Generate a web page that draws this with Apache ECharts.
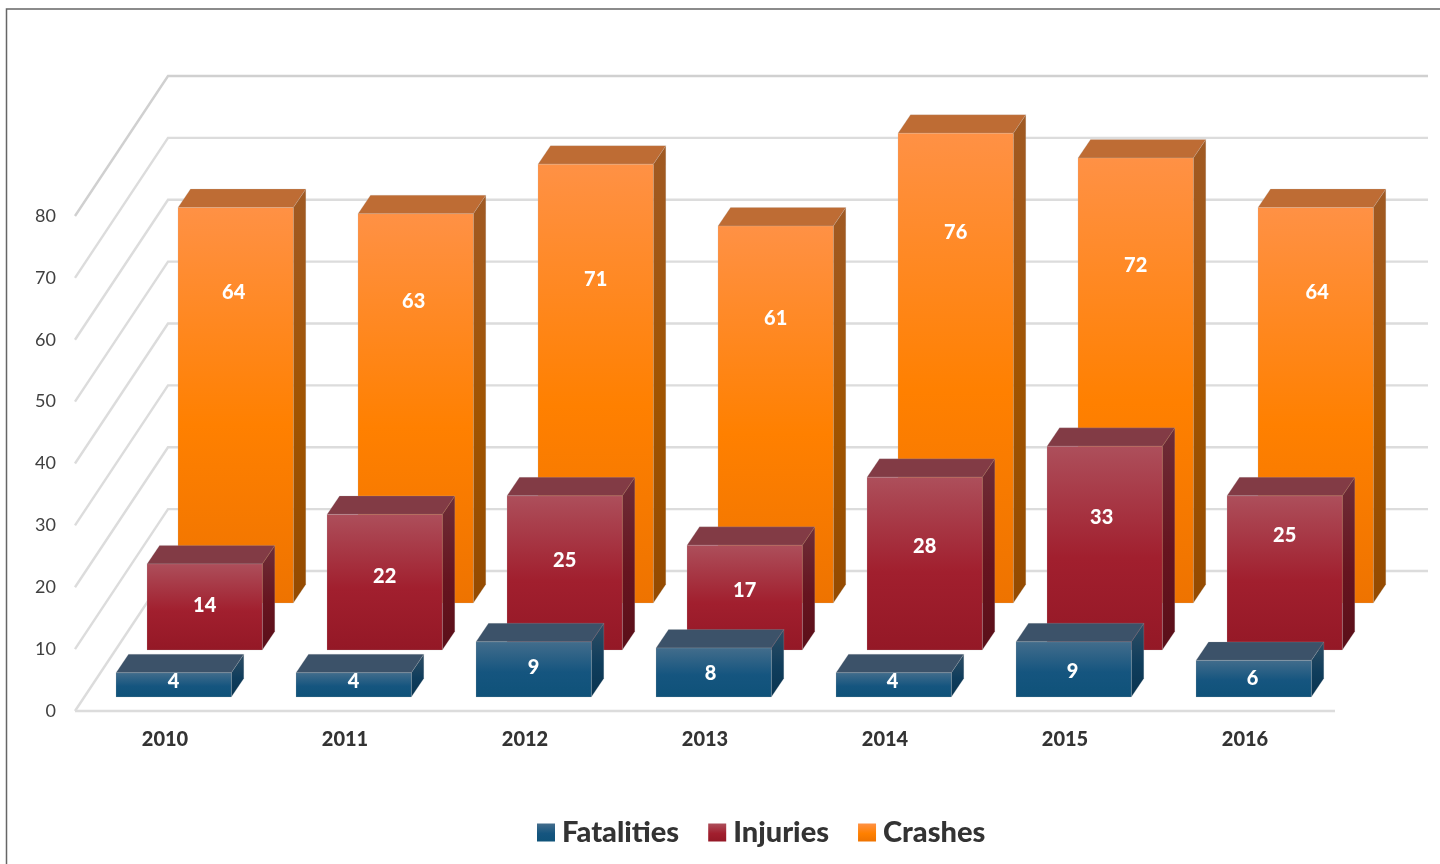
<!DOCTYPE html>
<html>
<head>
<meta charset="utf-8">
<style>html,body{margin:0;padding:0;background:#fff}#c{width:1440px;height:864px}</style>
<script src="https://cdn.jsdelivr.net/npm/echarts@6/dist/echarts.min.js"></script>
</head>
<body>
<div id="c"></div>
<script>
var years = ['2010','2011','2012','2013','2014','2015','2016'];
var fatalities = [4,4,9,8,4,9,6];
var injuries = [14,22,25,17,28,33,25];
var crashes = [64,63,71,61,76,72,64];
var yTicks = [0,10,20,30,40,50,60,70,80];

var FONT = 'Lato, "Open Sans", sans-serif';
var WALL = [93, -140];           // floor depth in pixels
var BAR_W = 115.3, BAR_D = [12.5, -18.5];

function grad(a, b, c) {
  return {type:'linear', x:0, y:0, x2:0, y2:1,
    colorStops:[{offset:0,color:a},{offset:0.55,color:b},{offset:1,color:c}]};
}
var styles = {
  Fatalities:{ front:['#436d8c','#15557f','#0f5279'], top:'#3c5269', side:['#2f4d63','#0f3d5c','#0a3450'], dx:41,  dy:-14,
    nudgeX:[0,0,0,-3,-1,-1,-1], nudgeY:[-5,-5,-3,0,-5,1,-2] },
  Injuries:{ front:['#ad4f5b','#a11f2e','#941826'], top:'#823b45', side:['#6e2e38','#66141f','#5a0f19'], dx:72,  dy:-61,
    nudgeX:[0,0,0,0,0,-3,0], nudgeY:[-3,-7,-14,-9,-19,-32,-39] },
  Crashes:{ front:['#ff9145','#ff8000','#ee7300'], top:'#be6c34', side:['#a05a24','#a05400','#944a00'], dx:103, dy:-108,
    nudgeX:[-2,-2,0,0,0,0,1.5], nudgeY:[-114,-108,-106,-97,-137,-116,-114] }
};
var EDGE = 'rgba(190,190,190,0.3)';

function barSeries(name, values) {
  var s = styles[name];
  return {
    type:'custom', name:name, coordinateSystem:'cartesian2d', clip:false, animation:false,
    itemStyle:{color:grad(s.front[0], s.front[1], s.front[2])},
    encode:{x:0, y:1},
    data: values.map(function(v,i){ return [i,v]; }),
    renderItem:function(params, api){
      var i = api.value(0), v = api.value(1);
      var band = api.size([1,0])[0];
      var p0 = api.coord([i,0]), pv = api.coord([i,v]);
      var x0 = p0[0]-band/2+s.dx, x1 = x0+BAR_W;
      var yb = p0[1]+s.dy, yt = pv[1]+s.dy+0.5;
      var dx = BAR_D[0], dy = BAR_D[1];
      var lx = (x0+x1)/2 + s.nudgeX[i], ly = (yb+yt)/2 + s.nudgeY[i] + 1.5;
      return {type:'group', children:[
        {type:'polygon', shape:{points:[[x1,yt],[x1+dx,yt+dy],[x1+dx,yb+dy],[x1,yb]]},
          style:{fill:grad(s.side[0],s.side[1],s.side[2]), stroke:EDGE, lineWidth:0.7}},
        {type:'polygon', shape:{points:[[x0,yt],[x0+dx,yt+dy],[x1+dx,yt+dy],[x1,yt]]},
          style:{fill:s.top, stroke:EDGE, lineWidth:0.7}},
        {type:'rect', shape:{x:x0,y:yt,width:BAR_W,height:yb-yt},
          style:{fill:grad(s.front[0],s.front[1],s.front[2]), stroke:EDGE, lineWidth:0.7}},
        {type:'text', x:lx, y:ly, style:{text:String(v), fill:'#fff', font:'900 20px '+FONT, align:'center', verticalAlign:'middle'}}
      ]};
    }
  };
}

var wallSeries = {
  type:'custom', name:'walls', coordinateSystem:'cartesian2d', clip:false, silent:true, animation:false,
  encode:{x:0, y:1},
  data: yTicks.map(function(t){ return [0,t]; }),
  renderItem:function(params, api){
    var t = api.value(1);
    var band = api.size([1,0])[0];
    var p = api.coord([0,t]);
    var xl = p[0]-band/2, xr = api.coord([years.length-1,t])[0]+band/2;
    var isTop = t === yTicks[yTicks.length-1];
    var st = {stroke:isTop?'#d0d0d0':'#dcdcdc', lineWidth:2.4, fill:null, lineJoin:'miter'};
    var kids = [{type:'polyline', shape:{points:[[xl,p[1]],[xl+WALL[0],p[1]+WALL[1]],[xr+WALL[0],p[1]+WALL[1]]]}, style:st}];
    if (t === 0) kids.push({type:'line', shape:{x1:xl,y1:p[1],x2:xr,y2:p[1]}, style:{stroke:'#dcdcdc',lineWidth:2.4}});
    return {type:'group', children:kids};
  }
};

function legendItem(name){
  var s = styles[name];
  return {name:name, icon:'rect', itemStyle:{color:grad(s.front[0],s.front[1],s.front[2])}};
}

var chart = echarts.init(document.getElementById('c'));
chart.setOption({
  animation:false,
  backgroundColor:'#fff',
  graphic:[{type:'polyline', silent:true, z:-1,
    shape:{points:[[6.5,864],[6.5,9],[1440,9]]},
    style:{stroke:'#666',lineWidth:1.5,fill:null}}],
  grid:{left:75, top:216, width:1260, height:495, containLabel:false},
  xAxis:{type:'category', data:years, axisLine:{show:false}, axisTick:{show:false}, splitLine:{show:false},
    axisLabel:{color:'#333', fontFamily:FONT, fontWeight:900, fontSize:20, margin:19}},
  yAxis:{type:'value', min:0, max:80, interval:10, axisLine:{show:false}, axisTick:{show:false}, splitLine:{show:false},
    axisLabel:{color:'#404040', fontFamily:FONT, fontSize:18, margin:19, padding:[2,0,0,0]}},
  legend:{
    data:[legendItem('Fatalities'),legendItem('Injuries'),legendItem('Crashes')],
    left:537, top:818, padding:0, itemWidth:18, itemHeight:18, itemGap:29, selectedMode:false,
    textStyle:{color:'#333', fontFamily:FONT, fontWeight:900, fontSize:29, padding:[0,0,0,2]}
  },
  series:[wallSeries, barSeries('Crashes',crashes), barSeries('Injuries',injuries), barSeries('Fatalities',fatalities)]
});
</script>
</body>
</html>
